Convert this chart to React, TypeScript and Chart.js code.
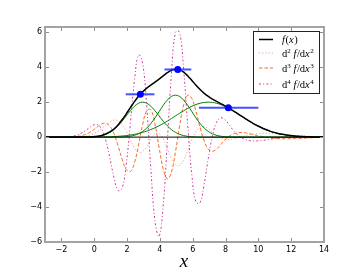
import React, { useEffect, useRef } from "react";
import { Chart, registerables } from "chart.js";

Chart.register(...registerables);

// ---- data ----
const xs = [
  -3.05, -2.8, -2.55, -2.3, -2.05, -1.8, -1.55, -1.3, -1.05, -0.8, -0.55, -0.3, -0.05,
  0.2, 0.45, 0.7, 0.95, 1.2, 1.45, 1.7, 1.95, 2.2, 2.45, 2.7, 2.95,
  3.2, 3.45, 3.7, 3.95, 4.2, 4.45, 4.7, 4.95, 5.2, 5.45, 5.7, 5.95,
  6.2, 6.45, 6.7, 6.95, 7.2, 7.45, 7.7, 7.95, 8.2, 8.45, 8.7, 8.95,
  9.2, 9.45, 9.7, 9.95, 10.2, 10.45, 10.7, 10.95, 11.2, 11.45, 11.7, 11.95,
  12.2, 12.45, 12.7, 12.95, 13.2, 13.45, 13.7, 13.95, 14.2,
];

const fx = [
  0, 0, 0, 0, 0, 0, 0, 0.001, 0.001, 0.003, 0.006, 0.013, 0.027,
  0.052, 0.098, 0.175, 0.294, 0.467, 0.7, 0.992, 1.328, 1.684, 2.03, 2.339, 2.595,
  2.802, 2.977, 3.143, 3.318, 3.504, 3.683, 3.821, 3.884, 3.849, 3.715, 3.502, 3.243,
  2.973, 2.722, 2.505, 2.326, 2.176, 2.044, 1.919, 1.792, 1.657, 1.515, 1.366, 1.214,
  1.063, 0.916, 0.777, 0.649, 0.534, 0.433, 0.345, 0.271, 0.209, 0.159, 0.119, 0.088,
  0.064, 0.046, 0.032, 0.022, 0.015, 0.01, 0.007, 0.004, 0.003,
];

const comp1 = [
  0, 0, 0, 0, 0, 0, 0.0001, 0.0002, 0.0007, 0.0018, 0.0044, 0.0102, 0.0222,
  0.0456, 0.0879, 0.1592, 0.2707, 0.4326, 0.6494, 0.9156, 1.2131, 1.5096, 1.765, 1.9384, 2,
  1.9384, 1.765, 1.5096, 1.2131, 0.9156, 0.6494, 0.4326, 0.2707, 0.1592, 0.0879, 0.0456, 0.0222,
  0.0102, 0.0044, 0.0018, 0.0007, 0.0002, 0.0001, 0, 0, 0, 0, 0, 0,
  0, 0, 0, 0, 0, 0, 0, 0, 0, 0, 0, 0,
  0, 0, 0, 0, 0, 0, 0, 0, 0,
];

const comp2 = [
  0, 0, 0, 0, 0, 0, 0, 0, 0, 0, 0, 0, 0,
  0, 0.0001, 0.0003, 0.0008, 0.0021, 0.0052, 0.0122, 0.0267, 0.0547, 0.1055, 0.191, 0.3248,
  0.5191, 0.7793, 1.0987, 1.4556, 1.8115, 2.118, 2.3261, 2.4, 2.3261, 2.118, 1.8115, 1.4556,
  1.0987, 0.7793, 0.5191, 0.3248, 0.191, 0.1055, 0.0547, 0.0267, 0.0122, 0.0052, 0.0021, 0.0008,
  0.0003, 0.0001, 0, 0, 0, 0, 0, 0, 0, 0, 0, 0,
  0, 0, 0, 0, 0, 0, 0, 0, 0,
];

const comp3 = [
  0, 0, 0, 0, 0.0001, 0.0001, 0.0002, 0.0004, 0.0007, 0.0011, 0.0018, 0.0028, 0.0044,
  0.0067, 0.0102, 0.0151, 0.0222, 0.0321, 0.0456, 0.0638, 0.0879, 0.1192, 0.1592, 0.2092, 0.2707,
  0.3448, 0.4326, 0.5342, 0.6494, 0.7772, 0.9156, 1.0622, 1.2131, 1.3638, 1.5096, 1.6452, 1.765,
  1.8642, 1.9384, 1.9844, 2, 1.9844, 1.9384, 1.8642, 1.765, 1.6452, 1.5096, 1.3638, 1.2131,
  1.0622, 0.9156, 0.7772, 0.6494, 0.5342, 0.4326, 0.3448, 0.2707, 0.2092, 0.1592, 0.1192, 0.0879,
  0.0638, 0.0456, 0.0321, 0.0222, 0.0151, 0.0102, 0.0067, 0.0044, 0.0028,
];

const d2 = [
  0, 0, 0, 0, 0, 0, 0.003, 0.006, 0.013, 0.027, 0.055, 0.106, 0.19,
  0.318, 0.488, 0.685, 0.868, 0.978, 0.945, 0.726, 0.329, -0.163, -0.608, -0.857, -0.823,
  -0.53, -0.127, 0.177, 0.203, -0.104, -0.648, -1.218, -1.588, -1.614, -1.292, -0.744, -0.153,
  0.315, 0.569, 0.605, 0.484, 0.292, 0.1, -0.042, -0.118, -0.134, -0.106, -0.052, 0.012,
  0.075, 0.131, 0.173, 0.203, 0.219, 0.223, 0.217, 0.203, 0.184, 0.162, 0.138, 0.115,
  0.094, 0.075, 0.058, 0.044, 0.033, 0.024, 0.018, 0.012, 0.009,
];

const d3 = [
  0, 0, 0, 0, 0.001, 0.003, 0.008, 0.018, 0.039, 0.079, 0.151, 0.263, 0.418,
  0.599, 0.753, 0.797, 0.633, 0.196, -0.489, -1.264, -1.857, -1.98, -1.478, -0.453, 0.717,
  1.522, 1.556, 0.747, -0.577, -1.815, -2.387, -2.015, -0.845, 0.636, 1.853, 2.405, 2.208,
  1.474, 0.557, -0.223, -0.685, -0.809, -0.685, -0.436, -0.177, 0.035, 0.175, 0.245, 0.262,
  0.241, 0.198, 0.145, 0.091, 0.039, -0.006, -0.042, -0.068, -0.084, -0.092, -0.094, -0.089,
  -0.082, -0.072, -0.061, -0.05, -0.04, -0.031, -0.024, -0.018, -0.013,
];

const d4 = [
  0, 0, 0, 0.002, 0.005, 0.012, 0.027, 0.058, 0.116, 0.215, 0.361, 0.538, 0.692,
  0.713, 0.462, -0.177, -1.18, -2.304, -3.054, -2.915, -1.568, 0.763, 3.242, 4.7, 4.223,
  1.73, -1.819, -4.786, -5.679, -3.943, -0.309, 3.578, 5.995, 6.006, 3.843, 0.649, -2.193,
  -3.728, -3.748, -2.677, -1.208, 0.066, 0.843, 1.107, 1.005, 0.734, 0.412, 0.161, -0.02,
  -0.135, -0.197, -0.221, -0.217, -0.196, -0.162, -0.124, -0.085, -0.048, -0.017, 0.007, 0.025,
  0.037, 0.042, 0.044, 0.042, 0.038, 0.033, 0.027, 0.022, 0.017,
];

const peakX = [2.81, 5.09, 8.17];
const peakY = [2.45, 3.87, 1.68];
const peakLo = [1.92, 4.28, 6.38];
const peakHi = [3.67, 5.91, 10.0];

const xTicks = [-2, 0, 2, 4, 6, 8, 10, 12, 14];
const yTicks = [-6, -4, -2, 0, 2, 4, 6];
const X_MIN = -3;
const X_MAX = 14;
const Y_MIN = -6;
const Y_MAX = 6.3;

// ---- styles ----
const C_F = "#000000";
const C_COMP = "#008000";
const C_D2 = "#f29aa3";
const C_D3 = "#f76a2c";
const C_D4 = "#d4359f";
const C_PEAK = "#0000ff";
const DASH_D2 = [1.2, 2];
const DASH_D3 = [3.5, 2];
const DASH_D4 = [2, 2.2, 1, 2.2];

type Part = { t: string; it?: boolean; sup?: boolean };
const legendEntries: { parts: Part[]; color: string; width: number; dash: number[]; y: number }[] = [
  { parts: [{ t: "f", it: true }, { t: "(" }, { t: "x", it: true }, { t: ")" }], color: C_F, width: 1.5, dash: [], y: 39.5 },
  {
    parts: [{ t: "d" }, { t: "2", sup: true }, { t: " " }, { t: "f", it: true }, { t: "/d" }, { t: "x", it: true }, { t: "2", sup: true }],
    color: C_D2, width: 1, dash: DASH_D2, y: 53,
  },
  {
    parts: [{ t: "d" }, { t: "3", sup: true }, { t: " " }, { t: "f", it: true }, { t: "/d" }, { t: "x", it: true }, { t: "3", sup: true }],
    color: C_D3, width: 1, dash: DASH_D3, y: 68,
  },
  {
    parts: [{ t: "d" }, { t: "4", sup: true }, { t: " " }, { t: "f", it: true }, { t: "/d" }, { t: "x", it: true }, { t: "4", sup: true }],
    color: C_D4, width: 1, dash: DASH_D4, y: 84,
  },
];

const fmt = (v: number | string) => {
  const n = Number(v);
  return n < 0 ? "\u2212" + Math.abs(n) : String(n);
};

const toPts = (ys: number[]) => xs.map((x, i) => ({ x, y: ys[i] }));

const overlay = {
  id: "overlay",
  afterDraw(chart: any) {
    const { ctx, chartArea, scales } = chart;
    const { left, right, top, bottom } = chartArea;
    const sx = scales.x;
    const sy = scales.y;
    ctx.save();
    // ticks (inward, all four sides)
    ctx.strokeStyle = "#8c8c8c";
    ctx.lineWidth = 1;
    ctx.beginPath();
    for (const v of xTicks) {
      const p = Math.round(sx.getPixelForValue(v)) + 0.5;
      ctx.moveTo(p, bottom);
      ctx.lineTo(p, bottom - 4);
      ctx.moveTo(p, top);
      ctx.lineTo(p, top + 4);
    }
    for (const v of yTicks) {
      const p = Math.round(sy.getPixelForValue(v)) + 0.5;
      ctx.moveTo(left, p);
      ctx.lineTo(left + 4, p);
      ctx.moveTo(right, p);
      ctx.lineTo(right - 4, p);
    }
    ctx.stroke();
    // frame
    ctx.lineWidth = 2;
    ctx.strokeStyle = "#a3a3a3";
    ctx.strokeRect(left, top, right - left, bottom - top);

    // legend
    const bx = 253.5, by = 31.5, bw = 66, bh = 62;
    ctx.fillStyle = "#ffffff";
    ctx.fillRect(bx, by, bw, bh);
    ctx.lineWidth = 1;
    ctx.strokeStyle = "#222222";
    ctx.strokeRect(bx, by, bw, bh);
    for (const e of legendEntries) {
      ctx.beginPath();
      ctx.setLineDash(e.dash);
      ctx.strokeStyle = e.color;
      ctx.lineWidth = e.width;
      ctx.moveTo(259, e.y);
      ctx.lineTo(273, e.y);
      ctx.stroke();
      ctx.setLineDash([]);
      let cx = 282;
      const base = e.y + 3.5;
      ctx.fillStyle = "#000";
      ctx.textBaseline = "alphabetic";
      ctx.textAlign = "left";
      for (const p of e.parts) {
        const size = p.sup ? 7 : 10.5;
        ctx.font = `${p.it ? "italic " : ""}${size}px "Liberation Serif"`;
        ctx.fillText(p.t, cx, base - (p.sup ? 4 : 0));
        cx += ctx.measureText(p.t).width + (p.it ? 0.6 : 0);
      }
    }

    // x axis label
    ctx.font = 'italic 19px "Liberation Serif"';
    ctx.fillStyle = "#000";
    ctx.textAlign = "center";
    ctx.textBaseline = "alphabetic";
    ctx.fillText("x", 184, 267);
    ctx.restore();
  },
};

export default function App() {
  const ref = useRef<HTMLCanvasElement | null>(null);

  useEffect(() => {
    if (!ref.current) return;
    const line = (label: string, ys: number[], color: string, width: number, dash: number[]) => ({
      label,
      data: toPts(ys),
      borderColor: color,
      backgroundColor: color,
      borderWidth: width,
      borderDash: dash,
      pointRadius: 0,
      tension: 0.4,
      fill: false,
    });
    const bars = peakX.map((_, i) => ({
      label: "err" + i,
      data: [
        { x: peakLo[i], y: peakY[i] },
        { x: peakHi[i], y: peakY[i] },
      ],
      borderColor: "rgba(20,40,255,0.8)",
      borderWidth: 2,
      pointRadius: 0,
      fill: false,
      tension: 0,
    }));
    const chart = new Chart(ref.current, {
      type: "line",
      data: {
        datasets: [
          {
            label: "peaks",
            data: peakX.map((x, i) => ({ x, y: peakY[i] })),
            showLine: false,
            pointRadius: 3.5,
            pointBackgroundColor: C_PEAK,
            pointBorderColor: C_PEAK,
            pointBorderWidth: 0,
            borderColor: C_PEAK,
          },
          ...bars,
          line("f(x)", fx, C_F, 1.5, []),
          {
            label: "zero",
            data: [
              { x: X_MIN, y: 0 },
              { x: X_MAX, y: 0 },
            ],
            borderColor: "#000",
            borderWidth: 1,
            pointRadius: 0,
          },
          line("g1", comp1, C_COMP, 1, []),
          line("g2", comp2, C_COMP, 1, []),
          line("g3", comp3, C_COMP, 1, []),
          line("d4", d4, C_D4, 1, DASH_D4),
          line("d3", d3, C_D3, 1, DASH_D3),
          line("d2", d2, C_D2, 1, DASH_D2),
        ] as any,
      },
      options: {
        responsive: false,
        animation: false,
        devicePixelRatio: 1,
        layout: { padding: { left: 0, right: 36, top: 27, bottom: 0 } },
        plugins: { legend: { display: false }, tooltip: { enabled: false } },
        scales: {
          x: {
            type: "linear",
            min: X_MIN,
            max: X_MAX,
            grid: { display: false, drawTicks: false },
            border: { display: false },
            ticks: {
              font: { family: "DejaVu Sans", size: 8 },
              color: "#000",
              padding: 3,
              autoSkip: false,
              maxRotation: 0,
              callback: (v: any) => fmt(v),
            },
            afterBuildTicks: (s: any) => {
              s.ticks = xTicks.map((v) => ({ value: v }));
            },
            afterFit: (s: any) => {
              s.height = 28;
            },
          },
          y: {
            type: "linear",
            min: Y_MIN,
            max: Y_MAX,
            grid: { display: false, drawTicks: false },
            border: { display: false },
            ticks: {
              font: { family: "DejaVu Sans", size: 8 },
              color: "#000",
              padding: 3,
              autoSkip: false,
              callback: (v: any) => fmt(v),
            },
            afterBuildTicks: (s: any) => {
              s.ticks = yTicks.map((v) => ({ value: v }));
            },
            afterFit: (s: any) => {
              s.width = 45;
            },
          },
        },
      } as any,
      plugins: [overlay],
    });
    return () => chart.destroy();
  }, []);

  return (
    <div style={{ position: "absolute", left: 0, top: 0, width: 360, height: 270, background: "#fff" }}>
      <canvas ref={ref} width={360} height={270} style={{ display: "block" }} />
    </div>
  );
}
